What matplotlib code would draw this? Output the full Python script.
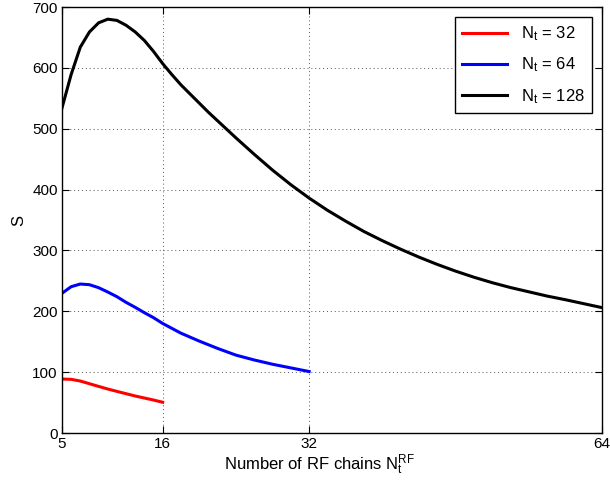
import matplotlib
matplotlib.use("Agg")
import matplotlib.pyplot as plt

plt.rcParams['font.family'] = ['Liberation Sans', 'DejaVu Sans']
plt.rcParams['mathtext.default'] = 'regular'

# S versus number of RF chains, one curve per N_t
x_32 = [5, 6, 7, 8, 9, 10, 11, 12, 13, 14, 15, 16]
s_32 = [88.7, 88.2, 85.4, 81.0, 76.6, 72.3, 68.4, 64.6, 60.8, 57.5, 54.2, 50.5]

x_64 = [5, 6, 7, 8, 9, 10, 11, 12, 13, 14, 15, 16, 18, 20, 22, 24, 26, 28, 30, 32]
s_64 = [229.5, 240.4, 244.8, 243.7, 238.8, 231.7, 224.0, 214.7, 206.5, 197.7,
        189.5, 180.0, 164.0, 151.0, 139.0, 128.0, 120.0, 113.0, 107.0, 101.0]

x_128 = [5, 6, 7, 8, 9, 10, 11, 12, 13, 14, 15, 16, 17, 18, 19, 20, 21, 22, 23,
         24, 26, 28, 30, 32, 34, 36, 38, 40, 42, 44, 46, 48, 50, 52, 54, 56, 58,
         60, 62, 64]
s_128 = [534, 589, 634, 659, 674, 680, 678, 670, 659, 645, 627, 607, 589, 572,
         557, 542, 527, 513, 499, 485, 458, 432, 408, 386, 366, 348, 331, 316,
         302, 289, 277, 266, 256, 247, 239, 232, 225, 219, 212.5, 206]

x_ticks = [5, 16, 32, 64]
y_ticks = [0, 100, 200, 300, 400, 500, 600, 700]

fig = plt.figure(figsize=(6.1, 4.83), dpi=100)
ax = fig.add_axes([0.1016, 0.1035, 0.8854, 0.882])

ax.plot(x_32, s_32, color='red', lw=2.2, label=r'$N_t$ = 32')
ax.plot(x_64, s_64, color='blue', lw=2.2, label=r'$N_t$ = 64')
ax.plot(x_128, s_128, color='black', lw=2.2, label=r'$N_t$ = 128')

ax.set_xlim(5, 64)
ax.set_ylim(0, 700)
ax.set_xticks(x_ticks)
ax.set_yticks(y_ticks)
ax.tick_params(direction='in', top=True, right=True, labelsize=11, length=5, pad=3)
ax.grid(True, linestyle=(0, (1, 3)), color='#555555', linewidth=0.7)
for sp in ax.spines.values():
    sp.set_linewidth(1.0)

ax.set_xlabel(r'Number of RF chains $N_t^{RF}$', fontsize=12)
ax.xaxis.set_label_coords(0.476, -0.086, transform=ax.transAxes)
ax.xaxis.label.set_va('baseline')
ax.set_ylabel('S', fontsize=12, labelpad=4)

leg = ax.legend(loc='upper right', fontsize=12, fancybox=False, framealpha=1,
                edgecolor='black', borderaxespad=0.6, handlelength=2.7,
                labelspacing=0.75, borderpad=0.45)
leg.get_frame().set_linewidth(1.0)

fig.savefig('out.png', dpi=100)
